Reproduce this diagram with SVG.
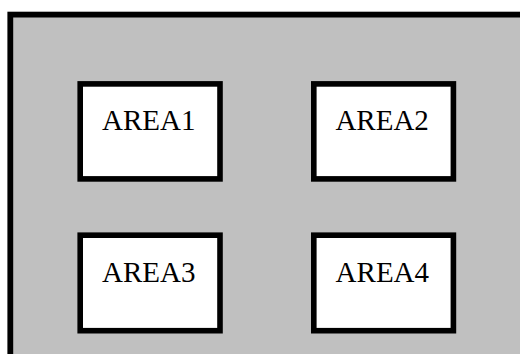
<svg xmlns="http://www.w3.org/2000/svg" width="520" height="354" viewBox="0 0 520 354">
  <style>
    .frame { fill: #c0c0c0; stroke: #000; stroke-width: 5.8; }
    .area { fill: #fff; stroke: #000; stroke-width: 5.6; }
    .label { font-family: "Liberation Serif", "Times New Roman", serif; font-size: 29px; fill: #000; }
  </style>
  <rect width="520" height="354" fill="#fff"/>
  <!-- grey container, running off the right and bottom edges -->
  <g id="container">
    <rect class="frame" x="10.3" y="14.6" width="530" height="360"/>
  </g>
  <g id="area1">
    <rect class="area" x="80.2" y="83.9" width="139.8" height="95"/>
    <text class="label" x="102" y="130">AREA1</text>
  </g>
  <g id="area2">
    <rect class="area" x="313.8" y="83.9" width="139.6" height="95"/>
    <text class="label" x="335.4" y="130">AREA2</text>
  </g>
  <g id="area3">
    <rect class="area" x="80.2" y="235.2" width="139.8" height="95.5"/>
    <text class="label" x="102" y="281.7">AREA3</text>
  </g>
  <g id="area4">
    <rect class="area" x="313.8" y="235.2" width="139.6" height="95.5"/>
    <text class="label" x="335.6" y="281.7">AREA4</text>
  </g>
  <g id="connectors"/>
</svg>
